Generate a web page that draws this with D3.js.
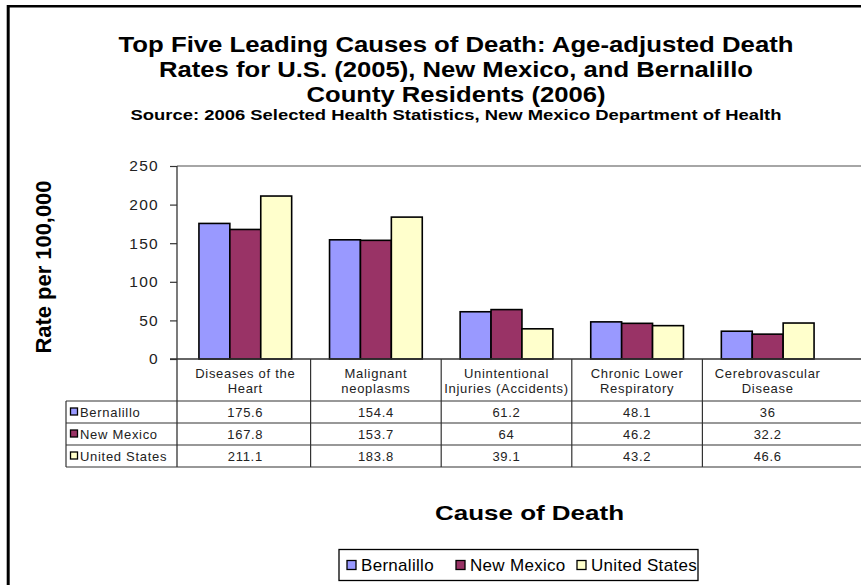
<!DOCTYPE html>
<html>
<head>
<meta charset="utf-8">
<script src="https://cdn.jsdelivr.net/npm/d3@7"></script>
<style>
  html, body { margin: 0; padding: 0; background: #fff; }
  svg { display: block; }
  text { font-family: "Liberation Sans", Arial, sans-serif; }
</style>
</head>
<body>
<svg id="chart" width="861" height="585"></svg>
<script>
// Causes of death (category label lines for the data-table header)
const causes = ["Diseases of the Heart", "Malignant neoplasms", "Unintentional Injuries (Accidents)", "Chronic Lower Respiratory", "Cerebrovascular Disease"];
const causeLines = [["Diseases of the", "Heart"], ["Malignant", "neoplasms"], ["Unintentional", "Injuries (Accidents)"], ["Chronic Lower", "Respiratory"], ["Cerebrovascular", "Disease"]];

// Age-adjusted death rates per 100,000
const seriesNames = ["Bernalillo", "New Mexico", "United States"];
const bernalillo = [175.6, 154.4, 61.2, 48.1, 36];
const newMexico = [167.8, 153.7, 64, 46.2, 32.2];
const unitedStates = [211.1, 183.8, 39.1, 43.2, 46.6];
const seriesColors = ["#9999FF", "#993366", "#FFFFCC"];

const yTicks = [0, 50, 100, 150, 200, 250];

const titleLines = [
  "Top Five Leading Causes of Death: Age-adjusted Death",
  "Rates for U.S. (2005), New Mexico, and Bernalillo",
  "County Residents (2006)"
];
const subtitle = "Source: 2006 Selected Health Statistics, New Mexico Department of Health";

const series = [bernalillo, newMexico, unitedStates].map((vals, i) => ({
  name: seriesNames[i], color: seriesColors[i], values: vals
}));

const svg = d3.select("#chart");

// outer frame (left and top edges)
svg.append("line").attr("x1", 8.2).attr("x2", 8.2).attr("y1", 5).attr("y2", 585)
  .attr("stroke", "#000").attr("stroke-width", 3);
svg.append("line").attr("x1", 7).attr("x2", 861).attr("y1", 6.2).attr("y2", 6.2)
  .attr("stroke", "#000").attr("stroke-width", 2.6);

// titles
const cx = 456;
const titleBaselines = [51.5, 77, 102];
const titleWidths = [675, 594, 299];
titleLines.forEach((t, i) => {
  svg.append("text").attr("x", cx).attr("y", titleBaselines[i])
    .attr("text-anchor", "middle").attr("font-size", 22.5).attr("font-weight", "bold")
    .attr("textLength", titleWidths[i]).attr("lengthAdjust", "spacingAndGlyphs")
    .attr("fill", "#000").text(t);
});
svg.append("text").attr("x", cx).attr("y", 120)
  .attr("text-anchor", "middle").attr("font-size", 15).attr("font-weight", "bold")
  .attr("textLength", 651).attr("lengthAdjust", "spacingAndGlyphs")
  .attr("fill", "#000").text(subtitle);

// scales
const axisX = 177;
const plotTop = 166, plotBottom = 359;
const x = d3.scaleBand().domain(causes).range([180, 833]).paddingInner(0).paddingOuter(0);
const y = d3.scaleLinear().domain([0, 250]).range([plotBottom, plotTop]);
const groupFrac = 0.71;
const barW = x.bandwidth() * groupFrac / series.length;

// top border of plot area
svg.append("line").attr("x1", axisX).attr("x2", 861).attr("y1", y(250)).attr("y2", y(250))
  .attr("stroke", "#888").attr("stroke-width", 1.5);

// bars
const groups = svg.append("g").selectAll("g").data(series).join("g");
groups.each(function(s, si) {
  d3.select(this).selectAll("rect").data(s.values).join("rect")
    .attr("x", (v, i) => x(causes[i]) + x.bandwidth() * (1 - groupFrac) / 2 + si * barW)
    .attr("y", v => y(v))
    .attr("width", barW)
    .attr("height", v => y(0) - y(v))
    .attr("fill", s.color)
    .attr("stroke", "#000").attr("stroke-width", 1.6);
});

// y axis
const yAxis = d3.axisLeft(y).tickValues(yTicks).tickSize(7).tickPadding(11);
const yg = svg.append("g").attr("transform", `translate(${axisX},0)`).call(yAxis);
yg.select(".domain").remove();
yg.selectAll(".tick line").attr("stroke", "#333").attr("stroke-width", 1.2);
yg.selectAll(".tick text").attr("font-size", 15.5).attr("fill", "#222")
  .attr("letter-spacing", 1.3)
  .attr("font-family", "Liberation Sans, Arial, sans-serif");

// y axis title
svg.append("text")
  .attr("transform", "translate(51,267) rotate(-90)")
  .attr("text-anchor", "middle").attr("font-size", 22).attr("font-weight", "bold")
  .attr("textLength", 173).attr("lengthAdjust", "spacingAndGlyphs")
  .attr("fill", "#000").text("Rate per 100,000");

// data table
const rowTop = 401, rowH = 22;
const tableLeft = 66, tableRight = 861;
const lineColor = "#333";
const tbl = svg.append("g");
const cellFont = 13, cellSpacing = 0.7;

// vertical axis line running through the table
tbl.append("line").attr("x1", axisX).attr("x2", axisX).attr("y1", plotTop).attr("y2", rowTop + rowH * 3)
  .attr("stroke", lineColor).attr("stroke-width", 1.3);
// header top (category axis)
tbl.append("line").attr("x1", axisX - 7).attr("x2", tableRight).attr("y1", plotBottom).attr("y2", plotBottom)
  .attr("stroke", lineColor).attr("stroke-width", 1.3);
// row lines
for (let r = 0; r <= 3; r++) {
  tbl.append("line").attr("x1", tableLeft).attr("x2", tableRight)
    .attr("y1", rowTop + r * rowH).attr("y2", rowTop + r * rowH)
    .attr("stroke", lineColor).attr("stroke-width", 1.2);
}
tbl.append("line").attr("x1", tableLeft).attr("x2", tableLeft).attr("y1", rowTop).attr("y2", rowTop + rowH * 3)
  .attr("stroke", lineColor).attr("stroke-width", 1.2);
// column dividers
causes.forEach((c, i) => {
  if (i === 0) return;
  tbl.append("line").attr("x1", x(c)).attr("x2", x(c)).attr("y1", plotBottom).attr("y2", rowTop + rowH * 3)
    .attr("stroke", lineColor).attr("stroke-width", 1.2);
});

// category labels
causes.forEach((c, i) => {
  causeLines[i].forEach((ln, j) => {
    tbl.append("text").attr("x", x(c) + x.bandwidth() / 2).attr("y", 378 + j * 15)
      .attr("text-anchor", "middle").attr("font-size", cellFont).attr("letter-spacing", cellSpacing)
      .attr("fill", "#222").text(ln);
  });
});

// series rows
series.forEach((s, si) => {
  const ry = rowTop + si * rowH;
  tbl.append("rect").attr("x", 70.5).attr("y", ry + 7).attr("width", 7).attr("height", 7)
    .attr("fill", s.color).attr("stroke", "#000").attr("stroke-width", 1.3);
  tbl.append("text").attr("x", 80).attr("y", ry + 15.5).attr("font-size", cellFont)
    .attr("letter-spacing", cellSpacing).attr("fill", "#222").text(s.name);
  s.values.forEach((v, i) => {
    tbl.append("text").attr("x", x(causes[i]) + x.bandwidth() / 2).attr("y", ry + 16)
      .attr("text-anchor", "middle").attr("font-size", cellFont).attr("letter-spacing", cellSpacing)
      .attr("fill", "#222").text(v);
  });
});

// x axis title
svg.append("text").attr("x", 529.5).attr("y", 519.5)
  .attr("text-anchor", "middle").attr("font-size", 21).attr("font-weight", "bold")
  .attr("textLength", 189).attr("lengthAdjust", "spacingAndGlyphs")
  .attr("fill", "#000").text("Cause of Death");

// legend
const lg = svg.append("g");
lg.append("rect").attr("x", 339).attr("y", 549.5).attr("width", 359).attr("height", 31)
  .attr("fill", "#fff").attr("stroke", "#000").attr("stroke-width", 1.3);
const legendX = [347, 456, 577];
series.forEach((s, i) => {
  lg.append("rect").attr("x", legendX[i]).attr("y", 560.5).attr("width", 9).attr("height", 9)
    .attr("fill", s.color).attr("stroke", "#000").attr("stroke-width", 1.3);
  lg.append("text").attr("x", legendX[i] + 14).attr("y", 571).attr("font-size", 17)
    .attr("letter-spacing", 0.3).attr("fill", "#000").text(s.name);
});
</script>
</body>
</html>
